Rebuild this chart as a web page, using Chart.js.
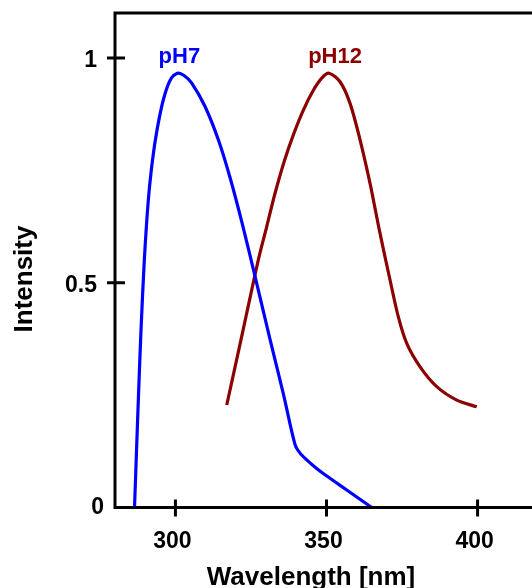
<!DOCTYPE html>
<html>
<head>
<meta charset="utf-8">
<script src="https://cdn.jsdelivr.net/npm/chart.js@4/dist/chart.umd.min.js"></script>
<style>
html, body { margin: 0; padding: 0; overflow: hidden; background: #fff; width: 532px; height: 588px; }
canvas { display: block; }
</style>
</head>
<body>
<canvas id="c" width="545" height="588"></canvas>
<script>
// ---- data ----
const ph7Wavelength = [286.46, 287.72, 288.61, 289.71, 291.03, 292.42, 293.91, 296.0, 298.21, 300.63, 302.85, 305.40, 309.80, 314.20, 318.07, 322.05, 326.35, 331.31, 335.72, 339.59, 341.24, 343.46, 346.54, 350.08, 356.70, 364.98];
const ph7Intensity  = [0, 0.239, 0.395, 0.551, 0.684, 0.773, 0.840, 0.907, 0.950, 0.966, 0.961, 0.944, 0.892, 0.818, 0.734, 0.633, 0.514, 0.374, 0.253, 0.140, 0.121, 0.106, 0.088, 0.070, 0.039, 0];
const ph12Wavelength = [316.98, 322.21, 327.44, 330.22, 332.97, 336.05, 339.03, 342.34, 345.65, 348.43, 350.84, 354.48, 357.79, 361.10, 364.41, 367.49, 371.03, 373.78, 376.56, 380.97, 386.49, 393.11, 399.73];
const ph12Intensity  = [0.228, 0.389, 0.551, 0.625, 0.699, 0.771, 0.829, 0.884, 0.928, 0.955, 0.966, 0.947, 0.899, 0.818, 0.721, 0.617, 0.506, 0.424, 0.365, 0.313, 0.269, 0.239, 0.224];
const xTicks = [300, 350, 400];
const yTicks = [0, 0.5, 1];
const yTickLabels = ["0", "0.5", "1"];
const seriesNames = ["pH7", "pH12"];
const seriesPeakWl = [300.63, 350.84];
const xTitle = "Wavelength [nm]";
const yTitle = "Intensity";

const toPoints = (xs, ys) => xs.map((x, i) => ({ x: x, y: ys[i] }));

const FONT = '"Liberation Sans", Arial, Helvetica, sans-serif';
const BLUE = '#0000ff';
const RED = '#8b0000';

const framePlugin = {
  id: 'frame',
  afterDatasetsDraw(chart) {
    const ctx = chart.ctx;
    const a = chart.chartArea;
    const xs = chart.scales.x, ys = chart.scales.y;
    ctx.save();
    ctx.strokeStyle = '#000';
    ctx.lineWidth = 3;
    ctx.strokeRect(a.left, a.top, a.right - a.left, a.bottom - a.top);
    ctx.beginPath();
    yTicks.forEach(v => {
      const py = ys.getPixelForValue(v);
      if (v === 0) return;
      ctx.moveTo(a.left - 8, py); ctx.lineTo(a.left + 10, py);
    });
    xTicks.forEach(v => {
      const px = xs.getPixelForValue(v);
      ctx.moveTo(px, a.bottom - 8); ctx.lineTo(px, a.bottom + 9);
    });
    ctx.stroke();
    ctx.fillStyle = '#000';
    ctx.font = 'bold 23px ' + FONT;
    ctx.textBaseline = 'alphabetic';
    ctx.textAlign = 'right';
    yTicks.forEach((v, i) => {
      const py = ys.getPixelForValue(v);
      const rx = v === 0 ? a.left - 11 : a.left - 18;
      ctx.fillText(yTickLabels[i], rx, py + (v === 0 ? 6 : 9));
    });
    ctx.textAlign = 'center';
    xTicks.forEach(v => {
      const px = xs.getPixelForValue(v);
      ctx.fillText(String(v), px - 3, a.bottom + 40);
    });
    ctx.font = 'bold 26px ' + FONT;
    ctx.fillText(xTitle, 311, 585);
    ctx.save();
    ctx.translate(32, 279);
    ctx.rotate(-Math.PI / 2);
    ctx.fillText(yTitle, 0, 0);
    ctx.restore();
    ctx.font = 'bold 22px ' + FONT;
    ctx.fillStyle = BLUE;
    ctx.fillText(seriesNames[0], xs.getPixelForValue(seriesPeakWl[0]) + 2, 63);
    ctx.fillStyle = RED;
    ctx.fillText(seriesNames[1], xs.getPixelForValue(seriesPeakWl[1]) + 6, 63);
    ctx.restore();
  }
};

new Chart(document.getElementById('c'), {
  type: 'scatter',
  data: {
    datasets: [
      { label: seriesNames[0], data: toPoints(ph7Wavelength, ph7Intensity), showLine: true,
        borderColor: BLUE, borderWidth: 3.2, pointRadius: 0, tension: 0.3, fill: false },
      { label: seriesNames[1], data: toPoints(ph12Wavelength, ph12Intensity), showLine: true,
        borderColor: RED, borderWidth: 3.2, pointRadius: 0, tension: 0.3, fill: false }
    ]
  },
  options: {
    responsive: false,
    animation: false,
    layout: { padding: { left: 115, top: 13, right: 7, bottom: 80.5 } },
    plugins: { legend: { display: false }, tooltip: { enabled: false } },
    scales: {
      x: { type: 'linear', min: 280, max: 420, display: false },
      y: { type: 'linear', min: 0, max: 1.1, display: false }
    }
  },
  plugins: [framePlugin]
});
</script>
</body>
</html>
